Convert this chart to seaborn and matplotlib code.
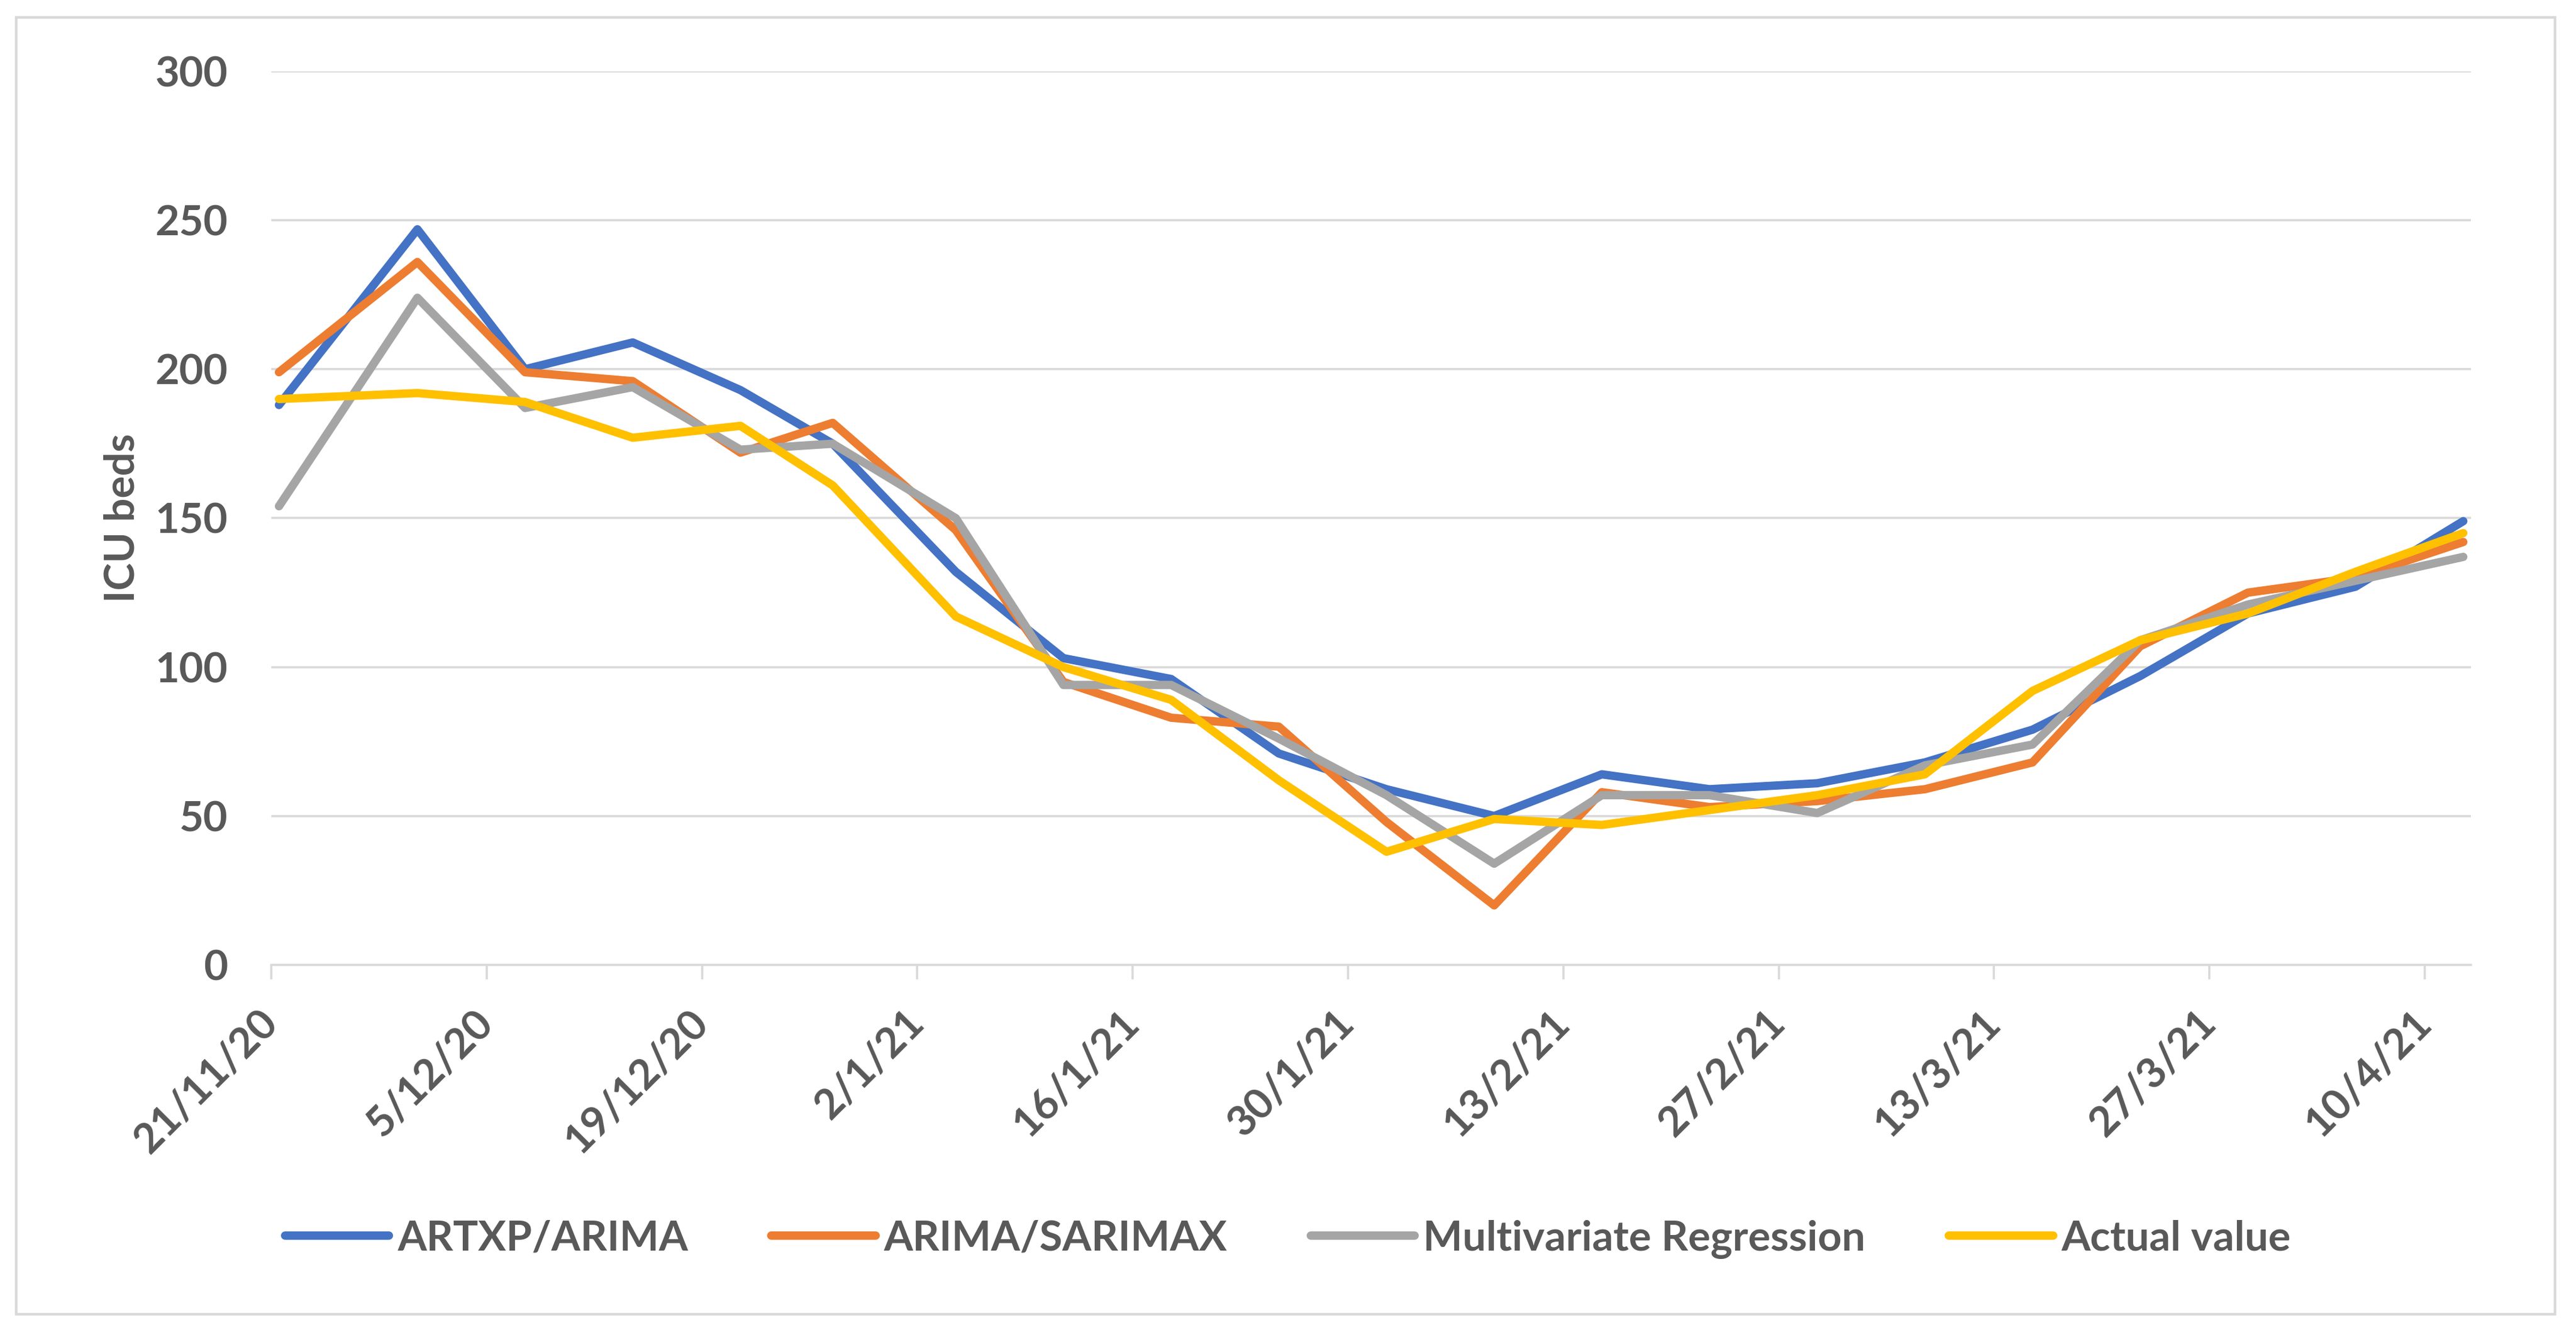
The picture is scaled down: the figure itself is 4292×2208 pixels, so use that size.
import pandas as pd
import matplotlib
matplotlib.use("Agg")
import matplotlib.pyplot as plt
import matplotlib.dates as mdates
from matplotlib.patches import Rectangle
import seaborn as sns

# ---------------------------
# 1. Data
# ---------------------------
dates = ["21/11/20", "30/11/20", "7/12/20", "14/12/20", "21/12/20", "27/12/20",
         "4/1/21", "11/1/21", "18/1/21", "25/1/21", "1/2/21", "8/2/21",
         "15/2/21", "22/2/21", "1/3/21", "8/3/21", "15/3/21", "22/3/21",
         "29/3/21", "5/4/21", "12/4/21"]

artxp_arima = [188, 247, 200, 209, 193, 175, 132, 103, 96, 71, 59, 50,
               64, 59, 61, 68, 79, 97, 118, 127, 149]
arima_sarimax = [199, 236, 199, 196, 172, 182, 146, 95, 83, 80, 48, 20,
                 58, 53, 55, 59, 68, 107, 125, 130, 142]
multi_regression = [154, 224, 187, 194, 173, 175, 150, 94, 94, 76, 57, 34,
                    57, 57, 51, 67, 74, 109, 121, 129, 137]
actual_value = [190, 192, 189, 177, 181, 161, 117, 100, 89, 62, 38, 49,
                47, 52, 57, 64, 92, 109, 118, 132, 145]

series_names = ["ARTXP/ARIMA", "ARIMA/SARIMAX", "Multivariate Regression", "Actual value"]
colors = ["#4472C4", "#ED7D31", "#A5A5A5", "#FFC000"]

tick_labels = ["21/11/20", "5/12/20", "19/12/20", "2/1/21", "16/1/21", "30/1/21",
               "13/2/21", "27/2/21", "13/3/21", "27/3/21", "10/4/21"]
y_ticks = [0, 50, 100, 150, 200, 250, 300]

# ---------------------------
# 2. Long-form table for seaborn
# ---------------------------
day = pd.to_datetime(dates, format="%d/%m/%y")
frames = []
for name, vals in zip(series_names, [artxp_arima, arima_sarimax, multi_regression, actual_value]):
    # excel date axis puts each point in the middle of its day
    frames.append(pd.DataFrame({"date": day + pd.Timedelta(hours=12), "beds": vals, "model": name}))
df = pd.concat(frames, ignore_index=True)

# ---------------------------
# 3. Plot
# ---------------------------
sns.set_theme(style="white")
plt.rcParams["font.family"] = ["Lato", "DejaVu Sans"]
plt.rcParams["font.weight"] = "bold"

text_color = "#595959"
grid_color = "#D9D9D9"
fs = 50

fig = plt.figure(figsize=(42.92, 22.08), dpi=100)
ax = fig.add_axes([0.10531, 0.27174, 0.85391, 0.67437])

sns.lineplot(data=df, x="date", y="beds", hue="model", hue_order=series_names,
             palette=colors, linewidth=10, ax=ax, solid_capstyle="round",
             solid_joinstyle="round", zorder=3)

ax.set_xlim(pd.Timestamp("2020-11-21"), pd.Timestamp("2021-04-13"))
ax.set_ylim(0, 300)
ax.set_yticks(y_ticks)
ax.set_yticklabels([str(v) for v in y_ticks], fontsize=fs, fontweight="bold", color=text_color)

tick_dates = pd.to_datetime(tick_labels, format="%d/%m/%y")
ax.set_xticks(mdates.date2num(tick_dates))
ax.set_xticklabels(tick_labels, fontsize=fs, fontweight="bold", color=text_color,
                   rotation=45, ha="right", va="center", rotation_mode="anchor")

ax.grid(axis="y", color=grid_color, linewidth=2.6, zorder=0)
ax.grid(axis="x", visible=False)
for s in ["top", "right", "left"]:
    ax.spines[s].set_visible(False)
ax.spines["bottom"].set_color(grid_color)
ax.spines["bottom"].set_linewidth(2.6)
ax.tick_params(axis="y", length=0, pad=52)
ax.tick_params(axis="x", length=17, width=2.6, color=grid_color, pad=45, bottom=True)

ax.set_xlabel("")
ax.set_ylabel("ICU beds", fontsize=fs, fontweight="bold", color=text_color)
ax.yaxis.set_label_coords(-0.059, 0.5)

# legend at the bottom, centred on the figure
handles, labels = ax.get_legend_handles_labels()
ax.get_legend().remove()
for h in handles:
    h.set_solid_capstyle("round")
leg = fig.legend(handles, labels, loc="center", bbox_to_anchor=(0.5, 1 - 2065 / 2208),
                 ncol=4, frameon=False, fontsize=fs, handlelength=2.5,
                 handletextpad=0.2, columnspacing=2.0)
for t in leg.get_texts():
    t.set_color(text_color)
    t.set_fontweight("bold")

# outer chart border
fig.patches.append(Rectangle((27 / 4292, 1 - 2190 / 2208), (4257 - 27) / 4292, (2190 - 29) / 2208,
                             transform=fig.transFigure, fill=False,
                             edgecolor=grid_color, linewidth=3.2))

fig.savefig("out.png", dpi=100, facecolor="white")
plt.close(fig)
